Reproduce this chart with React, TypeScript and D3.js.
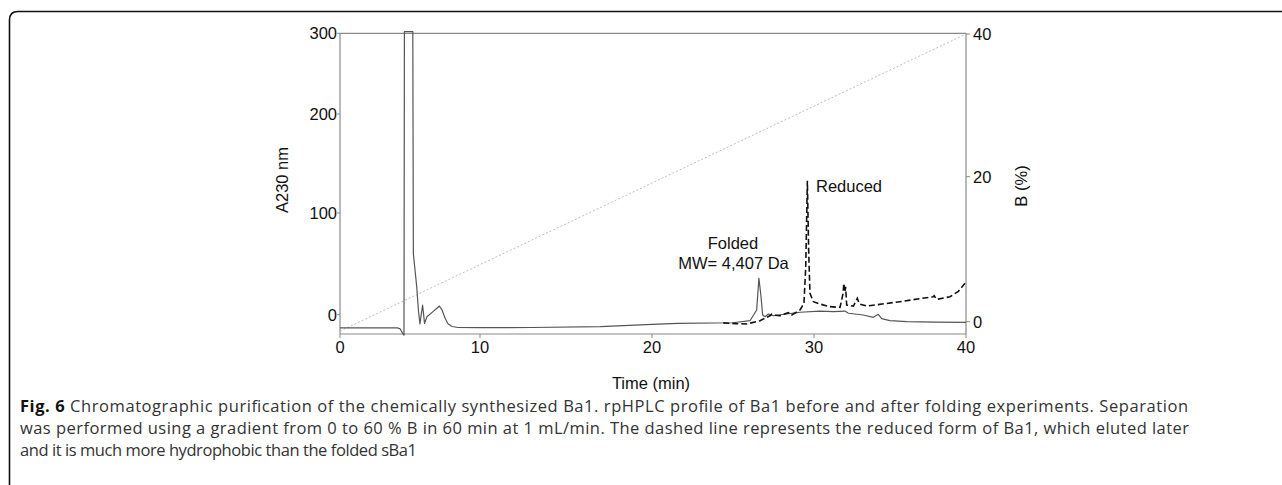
import React from "react";
import * as d3 from "d3";

// ---- data ----
const xTicks = [0, 10, 20, 30, 40];
const yLeftTicks = [0, 100, 200, 300];
const yRightTicks = [0, 20, 40];

// Folded sample (solid) – time (min), A230
const solidTime = [0, 2, 4.1, 4.3, 4.5, 4.57, 4.6, 5.2, 5.24, 5.48, 5.6, 5.71, 5.9, 6.04, 6.21, 6.64, 6.86, 7.1, 7.29, 7.5, 7.71, 8.0, 8.43, 10, 13, 17, 20, 21.6, 25, 26.05, 26.46, 26.6, 26.73, 26.83, 26.98, 27.18, 27.5, 28.3, 29.14, 30.39, 31.27, 32.04, 32.26, 33.24, 33.9, 34.23, 34.45, 35.0, 36.1, 38, 40];
const solidAbs = [-13, -13, -13, -14, -19, -20, 302, 302, 60, 27.5, 4.6, -9, 9.5, -8.5, -2, 3, 5.6, 8.5, 4.6, -3.2, -9, -11.6, -12.6, -12.8, -12.6, -11.8, -9.6, -8.6, -7.9, -5.9, 4.6, 35.8, 17.7, -0.3, -2, 0.7, -1, 0.7, 2.4, 3.6, 3, 3.6, 1.4, -0.3, -2.6, 0.4, -3.9, -5.9, -6.9, -7.3, -7.5];

// Reduced sample (dashed)
const dashedTime = [24.4, 25.2, 25.85, 26.67, 27.28, 27.39, 27.5, 27.9, 28.42, 28.62, 29.14, 29.38, 29.49, 29.59, 29.67, 29.75, 29.96, 30.39, 31.05, 31.71, 31.9, 31.97, 32.03, 32.08, 32.15, 32.59, 32.85, 32.98, 33.47, 35.66, 37.85, 37.9, 38.07, 38.95, 39.5, 39.93];
const dashedAbs = [-8, -8.8, -9.1, -5.9, -1, 0.4, -0.5, -1, 2, -0.3, 4.6, 11.2, 47, 132.5, 63.6, 21, 12.8, 10.5, 7.9, 7.2, 20, 30.9, 22, 27.5, 9.5, 8.5, 16.1, 10.5, 8.5, 12.8, 17.7, 18.7, 15.1, 17.7, 23, 30.9];

// Gradient (B %)
const gradientTime = [0, 40];
const gradientB = [-1.3, 40];

const captionLines = [
  "Chromatographic purification of the chemically synthesized Ba1. rpHPLC profile of Ba1 before and after folding experiments. Separation",
  "was performed using a gradient from 0 to 60 % B in 60 min at 1 mL/min. The dashed line represents the reduced form of Ba1, which eluted later",
  "and it is much more hydrophobic than the folded sBa1",
];

export default function App() {
  const W = 1282, H = 485;
  const x = d3.scaleLinear().domain(xTicks).range([340, 480, 652, 814, 966]);
  const yL = d3.scaleLinear().domain(yLeftTicks).range([314.7, 213, 114, 33.3]);
  const yR = d3.scaleLinear().domain(yRightTicks).range([321.7, 176.7, 34]);

  const lineL = d3.line<[number, number]>().x(d => x(d[0])).y(d => yL(d[1]));
  const lineR = d3.line<[number, number]>().x(d => x(d[0])).y(d => yR(d[1]));

  const solid = solidTime.map((t, i) => [t, solidAbs[i]] as [number, number]);
  const dashed = dashedTime.map((t, i) => [t, dashedAbs[i]] as [number, number]);
  const grad = gradientTime.map((t, i) => [t, gradientB[i]] as [number, number]);

  const axisCol = "#8a8a8a";
  const font = "'Liberation Sans', Arial, sans-serif";
  const capFont = "'Open Sans', 'Noto Sans', sans-serif";
  const xAxisY = 334;
  const left = 340, right = 966, top = 33.3;

  return (
    <svg width={W} height={H} style={{ position: "absolute", left: 0, top: 0, background: "#fff" }}>
      {/* frame */}
      <path d={`M9.5,${H} L9.5,20 Q9.5,11.5 18,11.5 L${W},11.5`} fill="none" stroke="#111" strokeWidth={1.6} />

      {/* plot box */}
      <line x1={left} x2={right} y1={top} y2={top} stroke={axisCol} strokeWidth={1.2} />
      <line x1={left} x2={left} y1={top} y2={xAxisY} stroke={axisCol} strokeWidth={1.2} />
      <line x1={right} x2={right} y1={top} y2={xAxisY} stroke={axisCol} strokeWidth={1.2} />
      <line x1={left} x2={right} y1={xAxisY} y2={xAxisY} stroke={axisCol} strokeWidth={1.2} />

      {/* x ticks */}
      {xTicks.map(t => (
        <g key={"x" + t}>
          <line x1={x(t)} x2={x(t)} y1={xAxisY} y2={xAxisY + 4} stroke={axisCol} />
          <text x={x(t)} y={353} textAnchor="middle" fontFamily={font} fontSize={16.5} fill="#111">{t}</text>
        </g>
      ))}
      {/* left ticks */}
      {yLeftTicks.map(t => (
        <g key={"yl" + t}>
          <line x1={left - 3} x2={left} y1={yL(t)} y2={yL(t)} stroke={axisCol} />
          <text x={left - 3} y={yL(t) + 6} textAnchor="end" fontFamily={font} fontSize={16.5} fill="#111">{t}</text>
        </g>
      ))}
      {/* right ticks */}
      {yRightTicks.map(t => (
        <g key={"yr" + t}>
          <line x1={right} x2={right + 4} y1={yR(t)} y2={yR(t)} stroke={axisCol} />
          <text x={right + 7} y={yR(t) + 6} textAnchor="start" fontFamily={font} fontSize={16.5} fill="#111">{t}</text>
        </g>
      ))}

      {/* axis titles */}
      <text transform="translate(287.5,180) rotate(-90)" textAnchor="middle" fontFamily={font} fontSize={16.5} fill="#111">A230 nm</text>
      <text transform="translate(1027,186) rotate(-90)" textAnchor="middle" fontFamily={font} fontSize={16.5} fill="#111">B (%)</text>
      <text x={651} y={389} textAnchor="middle" fontFamily={font} fontSize={16.5} fill="#111">Time (min)</text>

      {/* gradient */}
      <path d={lineR(grad) || ""} fill="none" stroke="#bdbdbd" strokeWidth={1} strokeDasharray="2,2" />
      {/* traces */}
      <path d={lineL(solid) || ""} fill="none" stroke="#555" strokeWidth={1.2} strokeLinejoin="round" />
      <path d={lineL(dashed) || ""} fill="none" stroke="#111" strokeWidth={1.6} strokeDasharray="6,3" />

      {/* annotations */}
      <text x={816} y={191.5} fontFamily={font} fontSize={16.5} fill="#111">Reduced</text>
      <text x={733} y={249} textAnchor="middle" fontFamily={font} fontSize={16.5} fill="#111">Folded</text>
      <text x={733.5} y={269} textAnchor="middle" fontFamily={font} fontSize={16.5} fill="#111">MW= 4,407 Da</text>

      {/* caption */}
      <text x={20} y={412} fontFamily={capFont} fontSize={16.5} fill="#333" textLength={1168} lengthAdjust="spacing">
        <tspan fontWeight="bold" fill="#111">Fig. 6</tspan> {captionLines[0]}
      </text>
      <text x={20} y={434} fontFamily={capFont} fontSize={16.5} fill="#333" textLength={1169} lengthAdjust="spacing">{captionLines[1]}</text>
      <text x={20} y={456} fontFamily={capFont} fontSize={16.5} fill="#333" textLength={397} lengthAdjust="spacing">{captionLines[2]}</text>
    </svg>
  );
}
